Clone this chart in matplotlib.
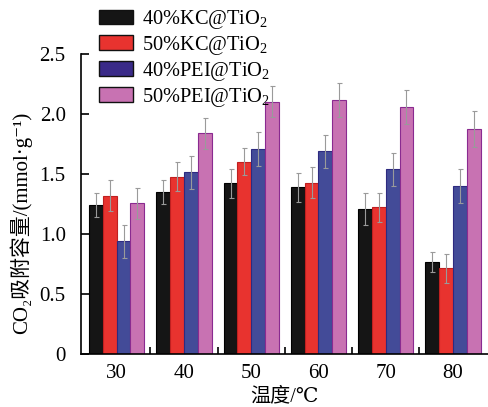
import matplotlib
matplotlib.use("Agg")
import matplotlib.pyplot as plt
import numpy as np

plt.rcParams['font.family'] = ['Liberation Serif', 'DejaVu Serif', 'Noto Sans CJK SC']
plt.rcParams['mathtext.fontset'] = 'custom'
plt.rcParams['mathtext.rm'] = 'Liberation Serif'
plt.rcParams['mathtext.it'] = 'Liberation Serif:italic'

temps = ['30', '40', '50', '60', '70', '80']
series_names = ['40%KC@TiO$_2$', '50%KC@TiO$_2$', '40%PEI@TiO$_2$', '50%PEI@TiO$_2$']
kc40 = [1.24, 1.355, 1.425, 1.39, 1.21, 0.77]
kc50 = [1.32, 1.48, 1.605, 1.43, 1.225, 0.717]
pei40 = [0.94, 1.515, 1.71, 1.69, 1.54, 1.40]
pei50 = [1.258, 1.84, 2.105, 2.12, 2.06, 1.875]
kc40_err = [0.10, 0.10, 0.12, 0.12, 0.13, 0.085]
kc50_err = [0.13, 0.12, 0.11, 0.13, 0.12, 0.12]
pei40_err = [0.14, 0.14, 0.14, 0.14, 0.14, 0.14]
pei50_err = [0.13, 0.13, 0.13, 0.14, 0.14, 0.15]

values = [kc40, kc50, pei40, pei50]
errors = [kc40_err, kc50_err, pei40_err, pei50_err]
face_colors = ['#151515', '#e8332f', '#434b98', '#c872b2']
edge_colors = ['#000000', '#c02020', '#2e2a80', '#8a2a90']
legend_face = ['#151515', '#e8332f', '#3a2a88', '#c872b2']

fig = plt.figure(figsize=(4.89, 4.07), dpi=100)
ax = fig.add_axes([0.1656, 0.1295, 0.8324, 0.7371])

x = np.arange(len(temps))
w = 0.205
handles = []
for k in range(4):
    pos = x + (k - 1.5) * w
    ax.bar(pos, values[k], width=w, color=face_colors[k], edgecolor=edge_colors[k],
           linewidth=0.8, zorder=2)
    ax.errorbar(pos, values[k], yerr=errors[k], fmt='none', ecolor='#9a9a9a',
                elinewidth=0.8, capsize=1.8, capthick=0.8, zorder=3)
    handles.append(plt.Rectangle((0, 0), 1, 1, facecolor=legend_face[k],
                                 edgecolor='#111111', linewidth=1.0))

ax.set_xlim(-0.53, 5.52)
ax.set_ylim(0, 2.5)
ax.set_yticks([0, 0.5, 1.0, 1.5, 2.0, 2.5])
ax.set_yticklabels(['0', '0.5', '1.0', '1.5', '2.0', '2.5'], fontsize=15)
ax.set_xticks(x[:-1] + 0.5)
ax.set_xticklabels([])
ax.set_xticks(x, minor=True)
ax.set_xticklabels(temps, minor=True, fontsize=15)
ax.tick_params(axis='x', which='major', direction='in', length=5, width=1.2)
ax.tick_params(axis='x', which='minor', length=0, pad=7)
ax.tick_params(axis='y', direction='in', length=6, width=1.2, pad=11)
for s in ['top', 'right']:
    ax.spines[s].set_visible(False)
for s in ['left', 'bottom']:
    ax.spines[s].set_linewidth(1.2)

ax.set_ylabel('CO\u2082吸附容量/(mmol\u00b7g\u207b\u00b9)', fontsize=15)
ax.yaxis.set_label_coords(-0.12, 0.437)
ax.set_xlabel('温度/\u2103', fontsize=14.5, labelpad=3)

fig.legend(handles, series_names, loc='upper left', bbox_to_anchor=(0.203, 0.98),
           frameon=False, fontsize=14.7, handlelength=1.65, handleheight=0.75,
           handletextpad=0.45, labelspacing=0.14, borderpad=0, borderaxespad=0)

fig.savefig('out.png', dpi=100, facecolor='white')
